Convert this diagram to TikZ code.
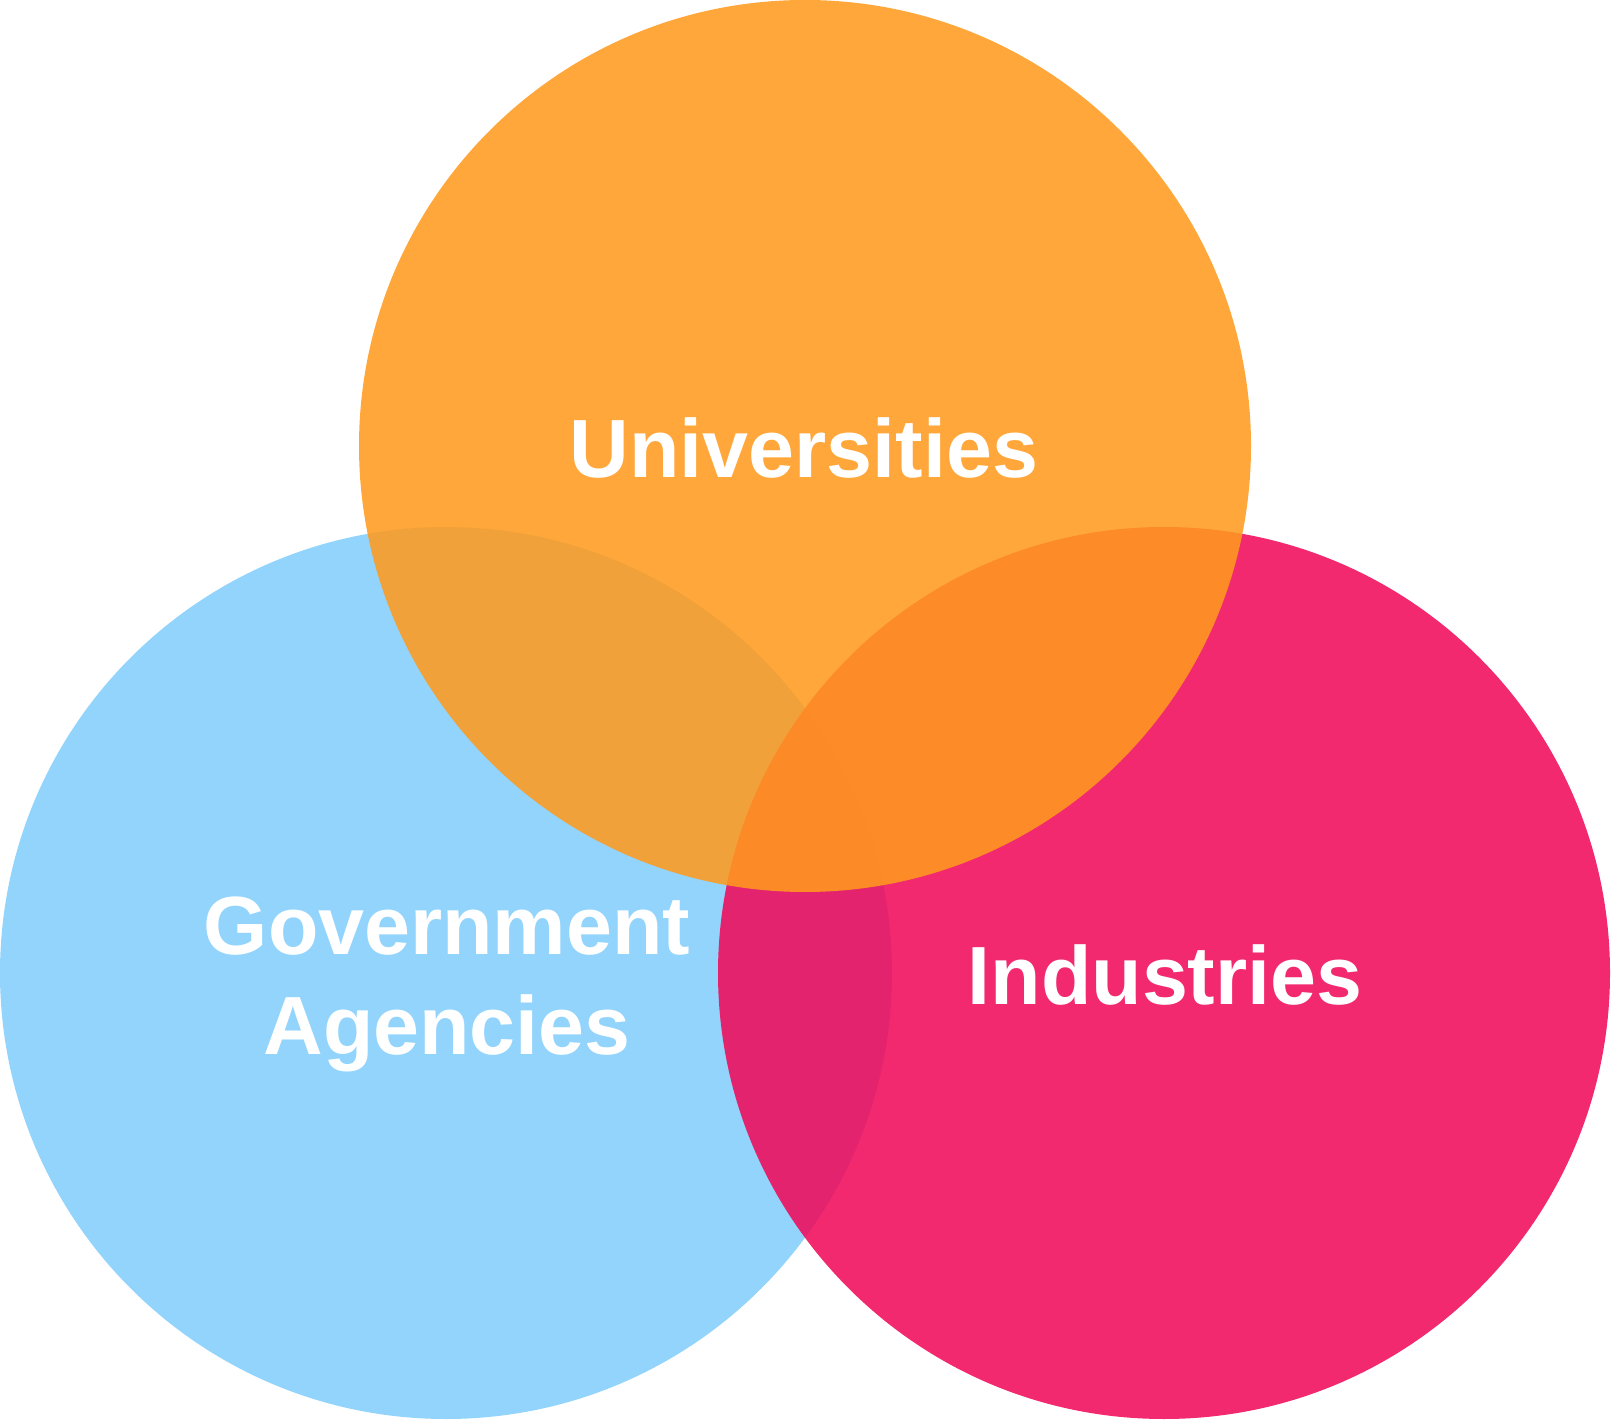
\documentclass[tikz,border=0pt]{standalone}
\usepackage{fontspec}
\setsansfont{Liberation Sans}
\usepackage{tikz}
\usetikzlibrary{positioning}
\definecolor{vblue}{HTML}{93D4FC}
\definecolor{vpink}{HTML}{F1095A}
\definecolor{vorange}{HTML}{FF9A1D}
\tikzset{
  setlabel/.style={font=\fontsize{23.5}{28.5}\selectfont\sffamily\bfseries, text=white, align=center, anchor=base, inner sep=0pt}
}

\begin{document}
\begin{tikzpicture}[x=1cm, y=1cm]
  \useasboundingbox (0,0) rectangle (16.11,14.2);

  %% circles: blue below, pink and orange laid over it
  \fill[vblue] (4.46,4.47) circle (4.46);
  \fill[vpink, fill opacity=0.87] (11.64,4.47) circle (4.46);
  \fill[vorange, fill opacity=0.87] (8.05,9.74) circle (4.46);

  %% labels (base of a two-line label is its last line)
  \node[setlabel] (univ) at (8.04,9.42) {Universities};
  \node[setlabel] (gov) at (4.47,3.65) {Government\\Agencies};
  \node[setlabel] (ind) at (11.65,4.15) {Industries};

\end{tikzpicture}
\end{document}
